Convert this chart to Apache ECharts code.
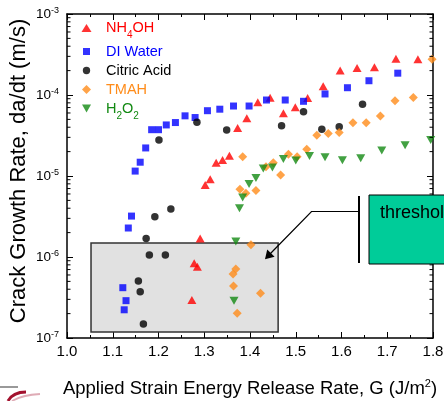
<!DOCTYPE html>
<html>
<head>
<meta charset="utf-8">
<script src="https://cdn.jsdelivr.net/npm/echarts@6/dist/echarts.min.js"></script>
<style>html,body{margin:0;padding:0;background:#fff;}#c{width:444px;height:401px;}</style>
</head>
<body>
<div id="c"></div>
<script>
// ---- data (G in J/m^2, rate in m/s) ----
const nh4ohG = [1.291,1.302,1.313,1.326,1.340,1.355,1.373,1.393,1.417,1.444,1.473,1.499,1.526,1.560,1.597,1.634,1.672,1.719,1.767,1.278,1.285,1.273];
const nh4ohRate = [1.69e-6,7.74e-6,9.1e-6,1.46e-5,1.58e-5,1.78e-5,3.92e-5,5.15e-5,8.15e-5,9.27e-5,5.94e-5,7.05e-5,9.18e-5,1.28e-4,2.0e-4,2.15e-4,2.2e-4,2.81e-4,2.76e-4,8.35e-7,7.59e-7,2.94e-7];

const diG = [1.134,1.141,1.149,1.160,1.172,1.185,1.200,1.217,1.237,1.258,1.280,1.307,1.334,1.364,1.398,1.436,1.477,1.517,1.564,1.613,1.660,1.723,1.122,1.129,1.125];
const diRate = [2.28e-6,3.2e-6,1.15e-5,1.48e-5,2.22e-5,3.73e-5,3.73e-5,4.27e-5,4.57e-5,5.53e-5,5.27e-5,6.4e-5,6.68e-5,7.31e-5,7.31e-5,8.67e-5,8.67e-5,8.36e-5,1.03e-4,1.23e-4,1.50e-4,1.86e-4,4.18e-7,2.89e-7,2.23e-7];

const citricG = [1.173,1.192,1.227,1.201,1.284,1.349,1.469,1.517,1.557,1.595,1.646,1.180,1.215,1.156,1.160,1.167];
const citricRate = [1.69e-6,3.15e-6,3.92e-6,2.78e-5,4.61e-5,3.70e-5,4.18e-5,6.21e-5,3.77e-5,4.05e-5,7.69e-5,1.06e-6,1.06e-6,5.06e-7,3.73e-7,1.49e-7];

const tmahG = [1.402,1.378,1.391,1.413,1.384,1.435,1.451,1.467,1.484,1.503,1.524,1.546,1.571,1.595,1.625,1.654,1.685,1.717,1.757,1.798,1.363,1.369,1.364,1.423,1.372];
const tmahRate = [1.42e-6,6.86e-6,6.11e-6,6.62e-6,1.73e-5,1.30e-5,1.46e-5,1.03e-5,1.85e-5,1.73e-5,2.14e-5,3.19e-5,3.35e-5,3.44e-5,4.54e-5,4.54e-5,5.5e-5,8.51e-5,9.31e-5,2.77e-4,6.17e-7,7.11e-7,4.39e-7,3.56e-7,2.02e-7];

const h2o2G = [1.369,1.377,1.384,1.398,1.413,1.429,1.449,1.473,1.500,1.530,1.564,1.602,1.642,1.688,1.739,1.795,1.365];
const h2o2Rate = [1.55e-6,3.99e-6,5.43e-6,7.96e-6,9.44e-6,1.24e-5,1.27e-5,1.62e-5,1.55e-5,1.77e-5,1.70e-5,1.57e-5,1.66e-5,2.07e-5,2.39e-5,2.78e-5,2.89e-7];

const seriesNames = ['NH4OH','DI Water','Citric Acid','TMAH','H2O2'];
const xTickLabels = ['1.0','1.1','1.2','1.3','1.4','1.5','1.6','1.7','1.8'];
const yDecades = [-7,-6,-5,-4,-3];
const minorMultipliers = [2,3,4,5,6,7,8,9];
// threshold box extent (G range, rate range)
const boxG = [1.0525, 1.4615];
const boxRate = [1.19e-7, 1.49e-6];

const FONT = 'Liberation Sans, Arial, Helvetica, sans-serif';
const C = {red:'#ff0000', blue:'#0000ff', black:'#000000', orange:'#ff8c1a', green:'#138a13'};

function pairs(xs, ys){ return xs.map((x,i)=>[x, ys[i]]); }

const minorData = [];
yDecades.slice(0,-1).forEach(d => minorMultipliers.forEach(m => minorData.push([1.0, m*Math.pow(10,d)])));

const chart = echarts.init(document.getElementById('c'), null, {renderer:'canvas'});

const axisLineStyle = {color:'#000', width:1.5};
const tickStyle = {color:'#000', width:1};

const xBase = {
  type:'value', min:1.0, max:1.8, interval:0.1,
  axisLine:{show:true, onZero:false, lineStyle:axisLineStyle},
  axisTick:{show:true, inside:true, length:6, lineStyle:tickStyle},
  minorTick:{show:true, splitNumber:2, length:3, lineStyle:tickStyle},
  splitLine:{show:false}, minorSplitLine:{show:false}
};
const yBase = {
  type:'log', logBase:10, min:1e-7, max:1e-3,
  axisLine:{show:true, onZero:false, lineStyle:axisLineStyle},
  axisTick:{show:true, inside:true, length:6, lineStyle:tickStyle},
  minorTick:{show:false},
  splitLine:{show:false}, minorSplitLine:{show:false}
};

const legendRich = {};
const colorKey = {r:C.red, b:C.blue, k:C.black, o:C.orange, g:C.green};
Object.keys(colorKey).forEach(k => {
  legendRich[k] = {color:colorKey[k], fontSize:14.5, height:16, lineHeight:16, fontFamily:FONT};
  legendRich[k+'s'] = {color:colorKey[k], fontSize:10, height:1, lineHeight:1, verticalAlign:'bottom', fontFamily:FONT};
});

const legendIcons = {
  'NH4OH':'path://M0,0M10,10M0,9L10,9L5,1Z',
  'DI Water':'path://M0,0M10,10M1.5,1.5L8.5,1.5L8.5,8.5L1.5,8.5Z',
  'Citric Acid':'path://M0,0M10,10M1.3,5A3.7,3.7 0 1 0 8.7,5A3.7,3.7 0 1 0 1.3,5Z',
  'TMAH':'path://M0,0M10,10M5,0.5L9.5,5L5,9.5L0.5,5Z',
  'H2O2':'path://M0,0M10,10M0.5,1L9.5,1L5,9Z'
};

const option = {
  animation:false,
  backgroundColor:'#fff',
  textStyle:{fontFamily:FONT},
  grid:{left:67, right:11, top:14, bottom:63, containLabel:false, outerBoundsMode:'none'},
  legend:{
    orient:'vertical', left:81.5, top:20, padding:0, itemGap:3,
    itemWidth:10, itemHeight:10, symbolKeepAspect:true,
    data:seriesNames.map(n => ({name:n, icon:legendIcons[n]})),
    formatter:function(n){
      if(n==='NH4OH') return '{r|NH}{rs|4}{r|OH}';
      if(n==='DI Water') return '{b|DI Water}';
      if(n==='Citric Acid') return '{k|Citric Acid}';
      if(n==='TMAH') return '{o|TMAH}';
      if(n==='H2O2') return '{g|H}{gs|2}{g|O}{gs|2}';
      return n;
    },
    textStyle:{fontFamily:FONT, fontSize:14.5, padding:[0,0,0,9.5], rich:legendRich}
  },
  xAxis:[
    Object.assign({}, xBase, {
      position:'bottom',
      axisLabel:{show:true, color:'#000', fontSize:15, margin:6, fontFamily:FONT,
        formatter:function(v){ const i = Math.round((v-1.0)/0.1); return xTickLabels[i] || ''; }},
      name:'{n|Applied Strain Energy Release Rate, G (J/m}{p|2}{n|)}',
      nameLocation:'middle', nameGap:40,
      nameTextStyle:{color:'#000', fontSize:18.5, fontFamily:FONT,
        rich:{n:{fontSize:18.5, color:'#000', fontFamily:FONT, lineHeight:22},
              p:{fontSize:11, color:'#000', fontFamily:FONT, lineHeight:8, verticalAlign:'top'}}}
    }),
    Object.assign({}, xBase, {position:'top', axisLabel:{show:false}})
  ],
  yAxis:[
    Object.assign({}, yBase, {
      position:'left',
      axisLabel:{show:true, margin:8, fontFamily:FONT,
        formatter:function(v){ const e = Math.round(Math.log10(v)); return '{b|10}{e|' + e + '}'; },
        rich:{b:{fontSize:13.5, color:'#000', fontFamily:FONT, lineHeight:15},
              e:{fontSize:9, color:'#000', fontFamily:FONT, lineHeight:6, verticalAlign:'top'}}}
    }),
    Object.assign({}, yBase, {position:'right', axisLabel:{show:false}})
  ],
  series:[
    {name:'NH4OH', type:'scatter', data:pairs(nh4ohG, nh4ohRate), symbol:'triangle', symbolSize:[9,8], itemStyle:{color:C.red}, z:2},
    {name:'DI Water', type:'scatter', data:pairs(diG, diRate), symbol:'rect', symbolSize:7, itemStyle:{color:C.blue}, z:2},
    {name:'Citric Acid', type:'scatter', data:pairs(citricG, citricRate), symbol:'circle', symbolSize:7.5, itemStyle:{color:C.black}, z:2},
    {name:'TMAH', type:'scatter', data:pairs(tmahG, tmahRate), symbol:'diamond', symbolSize:9, itemStyle:{color:C.orange}, z:2},
    {name:'H2O2', type:'scatter', data:pairs(h2o2G, h2o2Rate), symbol:'path://M0,0L10,0L5,9Z', symbolSize:[9,8], itemStyle:{color:C.green}, z:2},
    {name:'box', type:'scatter', data:[], z:5, silent:true,
      markArea:{silent:true, label:{show:false},
        itemStyle:{color:'rgba(175,175,175,0.38)', borderColor:'#333', borderWidth:1.5},
        data:[[{coord:[boxG[0], boxRate[1]]},{coord:[boxG[1], boxRate[0]]}]]}},
    {name:'yminor', type:'custom', data:minorData, z:6, silent:true, clip:false,
      encode:{x:0, y:1},
      renderItem:function(params, api){
        const v = api.value(1);
        const pL = api.coord([1.0, v]);
        const pR = api.coord([1.8, v]);
        return {type:'group', children:[
          {type:'line', shape:{x1:pL[0], y1:pL[1], x2:pL[0]+3.5, y2:pL[1]}, style:{stroke:'#000', lineWidth:1}},
          {type:'line', shape:{x1:pR[0], y1:pR[1], x2:pR[0]-3.5, y2:pR[1]}, style:{stroke:'#000', lineWidth:1}}
        ]};
      }}
  ],
  graphic:[
    {type:'text', x:19, y:171, rotation:Math.PI/2,
      style:{text:'Crack Growth Rate, da/dt (m/s)', fontSize:22, fontFamily:FONT, fill:'#000', align:'center', verticalAlign:'middle'}},
    // threshold callout
    {type:'rect', shape:{x:369, y:195, width:110, height:69}, style:{fill:'#00cc99', stroke:'#000', lineWidth:1}, z:20},
    {type:'text', x:380, y:213, style:{text:'threshold', fontSize:18, fontFamily:FONT, fill:'#000', align:'left', verticalAlign:'middle'}, z:21},
    {type:'line', shape:{x1:359, y1:196, x2:359, y2:263}, style:{stroke:'#000', lineWidth:2}, z:20},
    {type:'polyline', shape:{points:[[359,211.5],[311.5,211.5],[269.5,254.5]]}, style:{stroke:'#000', lineWidth:1.2, fill:null}, z:20},
    {type:'polygon', shape:{points:[[265,259.3],[267.2,249.6],[274.6,256.8]]}, style:{fill:'#000'}, z:20},
    // logo fragment bottom-left
    {type:'line', shape:{x1:0, y1:387, x2:18, y2:387}, style:{stroke:'#555', lineWidth:1.2}, z:20},
    {type:'bezierCurve', shape:{x1:8, y1:401, x2:26, y2:392, cpx1:13, cpy1:392}, style:{stroke:'#a3122e', lineWidth:3, fill:null}, z:20},
    {type:'bezierCurve', shape:{x1:12, y1:401, x2:40, y2:394, cpx1:22, cpy1:395}, style:{stroke:'rgba(163,18,46,0.35)', lineWidth:2, fill:null}, z:20}
  ]
};
chart.setOption(option);
</script>
</body>
</html>
